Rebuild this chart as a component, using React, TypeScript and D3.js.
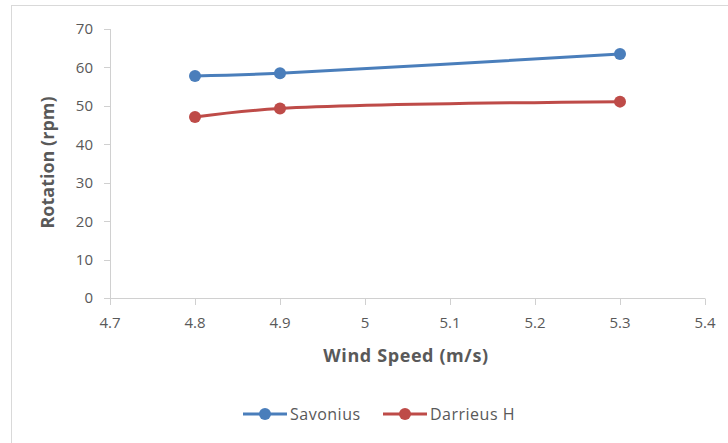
import React from "react";
import * as d3 from "d3";

const windSpeed = [4.8, 4.9, 5.3];
const savonius = [57.8, 58.5, 63.5];
const darrieus = [47.1, 49.3, 51.1];
const xTicks = [4.7, 4.8, 4.9, 5.0, 5.1, 5.2, 5.3, 5.4];
const yTicks = [0, 10, 20, 30, 40, 50, 60, 70];
const seriesNames = ["Savonius", "Darrieus H"];
const seriesColors = ["#4a7ebb", "#be4b48"];

export default function App() {
  const W = 728, H = 443;
  const x = d3.scaleLinear().domain([4.7, 5.4]).range([110, 705]);
  const y = d3.scaleLinear().domain([0, 70]).range([298, 29]);
  const line = d3
    .line<[number, number]>()
    .x((d) => x(d[0]))
    .y((d) => y(d[1]))
    .curve(d3.curveCatmullRom.alpha(0.5));
  const series = [savonius, darrieus];
  const font = "'Open Sans', Lato, sans-serif";
  const axisColor = "#d0d0d0";
  const textColor = "#595959";
  const fmt = (v: number) => (v === 5 ? "5" : v.toFixed(1));
  return (
    <svg
      width={W}
      height={H}
      style={{ position: "absolute", left: 0, top: 0, background: "#fff" }}
      fontFamily={font}
    >
      <rect x={11.5} y={5.5} width={W + 10} height={H + 10} fill="#fff" stroke="#d9d9d9" strokeWidth={1} />
      {/* y axis */}
      <line x1={110.5} x2={110.5} y1={y(70)} y2={y(0)} stroke={axisColor} strokeWidth={1} />
      {yTicks.map((t) => (
        <g key={t}>
          <line x1={104} x2={110.5} y1={Math.round(y(t)) + 0.5} y2={Math.round(y(t)) + 0.5} stroke={axisColor} />
          <text x={93} y={y(t)} dy="0.36em" textAnchor="end" fontSize={15} fill={textColor}>
            {t}
          </text>
        </g>
      ))}
      {/* x axis */}
      <line x1={x(4.7)} x2={x(5.4)} y1={298.5} y2={298.5} stroke={axisColor} strokeWidth={1} />
      {xTicks.map((t) => (
        <g key={t}>
          <line x1={Math.round(x(t)) + 0.5} x2={Math.round(x(t)) + 0.5} y1={298.5} y2={305} stroke={axisColor} />
          <text x={x(t)} y={328} textAnchor="middle" fontSize={15} fill={textColor}>
            {fmt(t)}
          </text>
        </g>
      ))}
      <text x={406} y={362} textAnchor="middle" fontSize={18} fontWeight="bold" letterSpacing={0.6} fill={textColor}>
        Wind Speed (m/s)
      </text>
      <text
        transform={`translate(54, ${y(35) - 1}) rotate(-90)`}
        textAnchor="middle"
        fontSize={18}
        fontWeight="bold"
        fill={textColor}
      >
        Rotation (rpm)
      </text>
      {series.map((vals, i) => {
        const pts: [number, number][] = windSpeed.map((w, j) => [w, vals[j]]);
        return (
          <g key={i}>
            <path d={line(pts) || ""} fill="none" stroke={seriesColors[i]} strokeWidth={3} />
            {pts.map((p, j) => (
              <circle key={j} cx={x(p[0])} cy={y(p[1])} r={6} fill={seriesColors[i]} />
            ))}
          </g>
        );
      })}
      {/* legend */}
      {seriesNames.map((n, i) => {
        const lx = [243, 383][i];
        return (
          <g key={n}>
            <line x1={lx} x2={lx + 44} y1={414} y2={414} stroke={seriesColors[i]} strokeWidth={3} />
            <circle cx={lx + 22} cy={414} r={6} fill={seriesColors[i]} />
            <text x={lx + 47} y={414} dy="0.36em" fontSize={16} letterSpacing={0.5} fill={textColor}>
              {n}
            </text>
          </g>
        );
      })}
    </svg>
  );
}
